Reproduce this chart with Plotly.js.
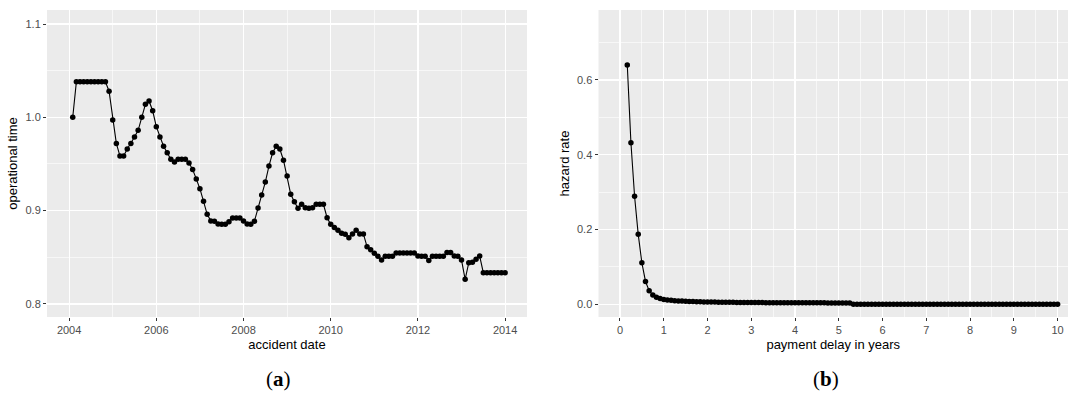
<!DOCTYPE html>
<html>
<head>
<meta charset="utf-8">
<script src="https://cdn.plot.ly/plotly-3.0.1.min.js"></script>
<style>
  html, body { margin: 0; padding: 0; background: #ffffff; }
  #chart { width: 1068px; height: 394px; }
</style>
</head>
<body>
<div id="chart"></div>
<script>
// ---------- Panel (a): operational time by accident month (Feb 2004 .. Jan 2014) ----------
const accidentStartYear = 2004;       // first month index 1 = Feb 2004
const operationalTime = [
  1.000, 1.038, 1.038, 1.038, 1.038, 1.038, 1.038, 1.038, 1.038, 1.038, 1.028, 0.997,
  0.972, 0.9585, 0.9585, 0.966, 0.972, 0.979, 0.986, 1.000, 1.014, 1.0175, 1.007, 0.990,
  0.979, 0.969, 0.962, 0.955, 0.952, 0.955, 0.955, 0.955, 0.951, 0.944, 0.934, 0.9235,
  0.910, 0.896, 0.889, 0.8885, 0.8857, 0.8855, 0.8855, 0.888, 0.892, 0.892, 0.892, 0.889,
  0.8857, 0.8855, 0.8886, 0.9027, 0.9167, 0.9306, 0.9478, 0.962, 0.969, 0.966, 0.954, 0.937,
  0.9175, 0.9095, 0.9025, 0.9067, 0.903, 0.9025, 0.903, 0.9067, 0.9067, 0.9067, 0.8924, 0.8853,
  0.882, 0.879, 0.8757, 0.8746, 0.871, 0.875, 0.879, 0.875, 0.875, 0.8614, 0.858, 0.8543,
  0.851, 0.847, 0.851, 0.851, 0.851, 0.8545, 0.8545, 0.8545, 0.8545, 0.8545, 0.8545, 0.8513,
  0.851, 0.851, 0.8465, 0.851, 0.851, 0.851, 0.851, 0.855, 0.855, 0.8513, 0.851, 0.847,
  0.8264, 0.8442, 0.8446, 0.8478, 0.8513, 0.8335, 0.8335, 0.8335, 0.8335, 0.8335, 0.8335, 0.8335
];
const yearTicksA = [2004, 2006, 2008, 2010, 2012, 2014];
const opTicks = [0.8, 0.9, 1.0, 1.1];

// ---------- Panel (b): hazard rate by payment delay (months 2 .. 120) ----------
const firstDelayMonth = 2;
const hazardRate = [
  0.640, 0.432, 0.289, 0.187, 0.111, 0.061, 0.036, 0.025, 0.019, 0.0155, 0.013,
  0.0115, 0.0105, 0.0097, 0.0091, 0.0086, 0.0081, 0.0077, 0.0073, 0.0070, 0.0067, 0.0064, 0.0062,
  0.0060, 0.0058, 0.0057, 0.0055, 0.0054, 0.0053, 0.0052, 0.0051, 0.0050, 0.0049, 0.0048, 0.0047,
  0.0046, 0.0046, 0.0045, 0.0044, 0.0044, 0.0043, 0.0043, 0.0042, 0.0042, 0.0041, 0.0041, 0.0040,
  0.0040, 0.0040, 0.0039, 0.0039, 0.0039, 0.0038, 0.0038, 0.0038, 0.0037, 0.0037, 0.0037, 0.0036,
  0.0036, 0.0036, 0.0036,
  0.0004, 0.0004, 0.0004, 0.0004, 0.0004, 0.0004, 0.0004, 0.0004, 0.0004, 0.0004,
  0.0004, 0.0004, 0.0004, 0.0004, 0.0004, 0.0004, 0.0004, 0.0004, 0.0004, 0.0004,
  0.0004, 0.0004, 0.0004, 0.0004, 0.0004, 0.0004, 0.0004, 0.0004, 0.0004, 0.0004,
  0.0004, 0.0004, 0.0004, 0.0004, 0.0004, 0.0004, 0.0004, 0.0004, 0.0004, 0.0004,
  0.0004, 0.0004, 0.0004, 0.0004, 0.0004, 0.0004, 0.0004, 0.0004, 0.0004, 0.0004,
  0.0004, 0.0004, 0.0004, 0.0004, 0.0004, 0.0004, 0.0004
];
const delayTicks = [0, 1, 2, 3, 4, 5, 6, 7, 8, 9, 10];
const hazardTicks = [0.0, 0.2, 0.4, 0.6];

const labels = {
  aX: 'accident date', aY: 'operational time',
  bX: 'payment delay in years', bY: 'hazard rate',
  capA: '(<b>a</b>)', capB: '(<b>b</b>)'
};

// month positions (categories) for the two series
const accidentX = operationalTime.map((_, i) => accidentStartYear + (i + 1) / 12);
const delayX = hazardRate.map((_, i) => (firstDelayMonth + i) / 12);

const W = 1068, H = 394;
const mL = 47, mT = 10, mB = 77;
const plotW = W - mL;
const toPX = px => (px - mL) / plotW;

const tickFont = { family: 'Liberation Sans, Arial, sans-serif', size: 11, color: '#4D4D4D' };
const titleFont = { family: 'Liberation Sans, Arial, sans-serif', size: 13, color: '#000000' };

function axisCommon() {
  return {
    showline: false, zeroline: false,
    ticks: 'outside', ticklen: 3, tickwidth: 1, tickcolor: '#333333',
    showgrid: true, gridcolor: '#FFFFFF', gridwidth: 1.2,
    tickfont: tickFont, fixedrange: true
  };
}

const markerStyle = { color: '#000000', size: 5.5 };
const lineStyle = { color: '#000000', width: 1.1 };

const traces = [
  { x: accidentX, y: operationalTime, type: 'scatter', mode: 'lines+markers',
    marker: markerStyle, line: lineStyle, xaxis: 'x', yaxis: 'y', hoverinfo: 'x+y' },
  { x: delayX, y: hazardRate, type: 'scatter', mode: 'lines+markers',
    marker: markerStyle, line: lineStyle, xaxis: 'x2', yaxis: 'y2', hoverinfo: 'x+y' }
];

const capFont = { family: 'Liberation Serif, Times New Roman, serif', size: 21, color: '#000000' };

const layout = {
  width: W, height: H,
  margin: { l: mL, r: 0, t: mT, b: mB, pad: 0 },
  paper_bgcolor: '#FFFFFF', plot_bgcolor: '#EBEBEB',
  showlegend: false,
  xaxis: Object.assign(axisCommon(), {
    domain: [0, toPX(527)], anchor: 'y',
    range: [2003.493, 2014.502],
    tickmode: 'array', tickvals: yearTicksA, ticktext: yearTicksA.map(String),
    minor: { tickmode: 'linear', tick0: 2005, dtick: 2, showgrid: true, gridcolor: '#FFFFFF', gridwidth: 0.6 },
    title: { text: labels.aX, font: titleFont, standoff: 4 }
  }),
  yaxis: Object.assign(axisCommon(), {
    domain: [0, 1], anchor: 'x',
    range: [0.786, 1.115],
    tickmode: 'array', tickvals: opTicks, ticktext: opTicks.map(v => v.toFixed(1)),
    minor: { tickmode: 'linear', tick0: 0.75, dtick: 0.1, showgrid: true, gridcolor: '#FFFFFF', gridwidth: 0.6 },
    title: { text: labels.aY, font: titleFont, standoff: 4 }
  }),
  xaxis2: Object.assign(axisCommon(), {
    domain: [toPX(598.5), 1], anchor: 'y2',
    range: [-0.491, 10.238],
    tickmode: 'array', tickvals: delayTicks, ticktext: delayTicks.map(String),
    minor: { tickmode: 'linear', tick0: 0.5, dtick: 1, showgrid: true, gridcolor: '#FFFFFF', gridwidth: 0.6 },
    title: { text: labels.bX, font: titleFont, standoff: 4 }
  }),
  yaxis2: Object.assign(axisCommon(), {
    domain: [0, 1], anchor: 'x2',
    range: [-0.034, 0.787],
    tickmode: 'array', tickvals: hazardTicks, ticktext: hazardTicks.map(v => v.toFixed(1)),
    minor: { tickmode: 'linear', tick0: 0.1, dtick: 0.2, showgrid: true, gridcolor: '#FFFFFF', gridwidth: 0.6 },
    title: { text: labels.bY, font: titleFont, standoff: 4 }
  }),
  annotations: [
    { text: labels.capA, xref: 'paper', yref: 'paper', x: toPX(278), y: (317 - 379) / 307,
      xanchor: 'center', yanchor: 'middle', showarrow: false, font: capFont },
    { text: labels.capB, xref: 'paper', yref: 'paper', x: toPX(826), y: (317 - 379) / 307,
      xanchor: 'center', yanchor: 'middle', showarrow: false, font: capFont }
  ]
};

Plotly.newPlot('chart', traces, layout, { staticPlot: true, displayModeBar: false });
</script>
</body>
</html>
